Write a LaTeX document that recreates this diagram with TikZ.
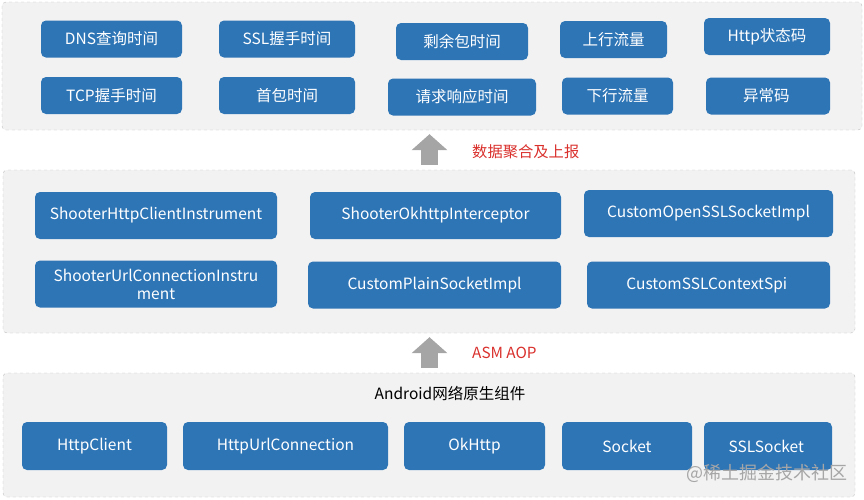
\documentclass[tikz,border=0pt]{standalone}
\usepackage{fontspec}
\setmainfont{Noto Sans CJK SC}
\usetikzlibrary{arrows.meta}

\definecolor{boxblue}{HTML}{2E75B6}
\definecolor{panelfill}{HTML}{F2F2F2}
\definecolor{panelline}{HTML}{BFBFBF}
\definecolor{arrowgray}{HTML}{A5A5A5}
\definecolor{notered}{HTML}{D9302C}

\begin{document}
\begin{tikzpicture}[x=1pt, y=-1pt,
    panel/.style={draw=panelline, dashed, fill=panelfill, rounded corners=4pt, inner sep=0pt},
    blk/.style={fill=boxblue, text=white, rounded corners=5pt, inner sep=0pt, align=center,
                font=\fontsize{15.5}{18}\selectfont},
    bigarrow/.style={draw=arrowgray, line width=17pt, -{Triangle[width=35pt, length=16pt]},
                     shorten <=5pt, shorten >=4pt},
    note/.style={text=notered, anchor=west, inner sep=0pt, font=\fontsize{15.3}{18}\selectfont}]
    \useasboundingbox (0,0) rectangle (864,499);

    % Die drei Ebenen (Hintergrund)
    \node[panel, minimum width=860pt, minimum height=128pt] (metrics) at (432,66) {};
    \node[panel, minimum width=852pt, minimum height=163pt] (hooks) at (429,251.5) {};
    \node[panel, minimum width=852pt, minimum height=124pt] (native) at (429,435) {};

    % Oben: Kennzahlen
    \foreach \n/\cx/\cy/\w/\t in {
        dns/111.5/39/141/DNS查询时间, ssl/287/39/136/SSL握手时间, rest/462/41.5/132/剩余包时间,
        up/613.5/39.5/107/上行流量, code/767/36.5/126/Http状态码,
        tcp/111.5/95.5/141/TCP握手时间, first/287/95.5/136/首包时间, resp/462/97/148/请求响应时间,
        down/617.5/96/111/下行流量, err/768/96/124/异常码
    } {
        \node[blk, minimum width=\w pt, minimum height=37pt] (\n) at (\cx,\cy) {\t};
    }

    % Mitte: Instrumentierung
    \foreach \n/\cx/\cy/\w/\t in {
        hci/156/215.5/242/ShooterHttpClientInstrument,
        oki/435.5/215.5/251/ShooterOkhttpInterceptor,
        ossl/708.5/213.5/249/CustomOpenSSLSocketImpl,
        uci/156/284/242/ShooterUrlConnectionInstru\\ment,
        plain/434.5/285/253/CustomPlainSocketImpl,
        sslctx/708.5/285/243/CustomSSLContextSpi
    } {
        \node[blk, minimum width=\w pt, minimum height=47pt] (\n) at (\cx,\cy) {\t};
    }

    % Unten: native Komponenten
    \node[font=\fontsize{15.5}{18}\selectfont] (nativetitle) at (450,393) {Android网络原生组件};
    \foreach \n/\cx/\w/\t in {
        httpclient/94.5/145/HttpClient, urlconn/285.5/205/HttpUrlConnection,
        okhttp/474.5/141/OkHttp, socket/627/130/Socket, sslsocket/768/128/SSLSocket
    } {
        \node[blk, minimum width=\w pt, minimum height=48pt] (\n) at (\cx,446) {\t};
    }

    % Pfeile zwischen den Ebenen
    \draw[bigarrow] (429.5,0 |- hooks.north) -- (429.5,0 |- metrics.south);
    \draw[bigarrow] (429.5,0 |- native.north) -- (429.5,0 |- hooks.south);
    \node[note] (agg) at (472,152) {数据聚合及上报};
    \node[note] (aop) at (472,353) {ASM AOP};

    % Wasserzeichen
    \node[text=black!35, font=\fontsize{18}{21}\selectfont] (mark) at (767,473) {@稀土掘金技术社区};
\end{tikzpicture}
\end{document}
